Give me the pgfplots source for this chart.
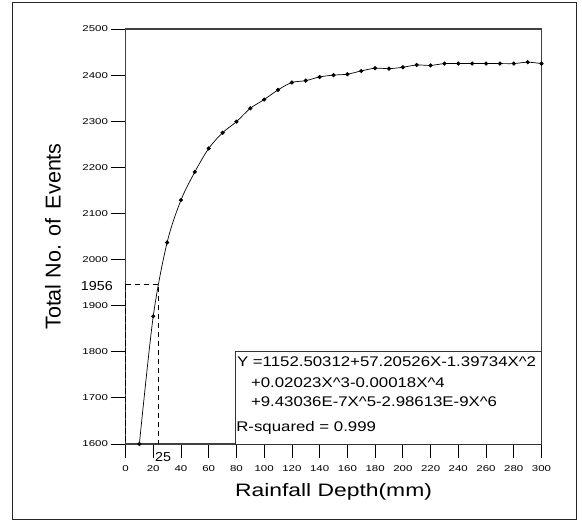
\documentclass[border=0pt]{standalone}
\usepackage{fontspec}
\setmainfont{Liberation Sans}
\newfontfamily\tickfont[FakeStretch=1.35]{Liberation Sans}
\newfontfamily\labfont[FakeStretch=1.27]{Liberation Sans}
\newfontfamily\eqfont[FakeStretch=1.2]{Liberation Sans}
\newfontfamily\numfont[FakeStretch=1.1]{Liberation Sans}
\usepackage{pgfplots}
\pgfplotsset{compat=1.18}

\begin{document}
\begin{tikzpicture}[x=1bp,y=1bp]
\useasboundingbox (0,0) rectangle (582,521);
\draw[line width=1.3bp, black!85] (12.5,1.2) rectangle (576.5,518.3);
\begin{axis}[
    at={(125.5bp,77bp)}, anchor=south west,
    scale only axis, width=416bp, height=415bp,
    xmin=0, xmax=300, ymin=1600, ymax=2500,
    xtick={0,20,...,300}, ytick={1600,1700,...,2500},
    tick pos=left, tick align=outside, major tick length=14bp,
    axis line style={line width=1.3bp, black!75},
    every tick/.style={black, line width=0.8bp},
    tick label style={font=\tickfont\fontsize{8.5bp}{10bp}\selectfont},
    /pgf/number format/assume math mode=true,
    /pgf/number format/1000 sep={},
    xticklabel style={yshift=-4bp},
    clip=false,
    xlabel={Rainfall Depth(mm)},
    ylabel={Total No. of\hspace{4bp} Events},
    xlabel style={at={(axis description cs:0.5,-0.1157)}, anchor=center,
        font=\labfont\fontsize{18bp}{20bp}\selectfont},
    ylabel style={at={(axis description cs:-0.1743,0.5)}, anchor=center,
        font=\fontsize{21.5bp}{24bp}\selectfont},
]
% 1956 at 25 mm
\draw[line width=1bp, dash pattern=on 5bp off 4bp] (axis cs:0,1946) -- (axis cs:24,1946) -- (axis cs:24,1600);
\draw[line width=1.8bp, dash pattern=on 6bp off 2bp] (axis cs:0,1946) -- (axis cs:0,1600);

\addplot[black, line width=0.7bp, smooth, mark=*, mark size=1.7bp] coordinates {
(10,1600) (20,1877) (30,2037) (40,2129) (50,2190) (60,2241)
(70,2275) (80,2299) (90,2328) (100,2347) (110,2368) (120,2384)
(130,2388) (140,2396) (150,2400) (160,2402) (170,2409) (180,2415)
(190,2414) (200,2417) (210,2422) (220,2421) (230,2425) (240,2425)
(250,2425) (260,2425) (270,2425) (280,2425) (290,2428) (300,2425)
};

\node[anchor=east, inner sep=0, font=\numfont\fontsize{13bp}{15bp}\selectfont]
    at ([xshift=-12.5bp,yshift=-2bp]axis cs:0,1946) {1956};
\node[inner sep=0, font=\numfont\fontsize{13bp}{15bp}\selectfont]
    at ([yshift=-13bp]axis cs:27.1,1600) {25};

% equation box
\draw[line width=0.9bp, black!80, fill=white] (axis cs:79.1,1600) rectangle (axis cs:300,1801.7);
\node[anchor=base west, inner sep=0, font=\eqfont\fontsize{14bp}{16bp}\selectfont]
    at (axis cs:80.3,1767.6) {Y =1152.50312+57.20526X-1.39734X\textasciicircum 2};
\node[anchor=base west, inner sep=0, font=\eqfont\fontsize{14bp}{16bp}\selectfont]
    at (axis cs:90.4,1722.5) {+0.02023X\textasciicircum 3-0.00018X\textasciicircum 4};
\node[anchor=base west, inner sep=0, font=\eqfont\fontsize{14bp}{16bp}\selectfont]
    at (axis cs:90.4,1680.9) {+9.43036E-7X\textasciicircum 5-2.98613E-9X\textasciicircum 6};
\node[anchor=base west, inner sep=0, font=\eqfont\fontsize{14bp}{16bp}\selectfont]
    at (axis cs:79.8,1626.7) {R-squared = 0.999};
\end{axis}
\end{tikzpicture}
\end{document}
